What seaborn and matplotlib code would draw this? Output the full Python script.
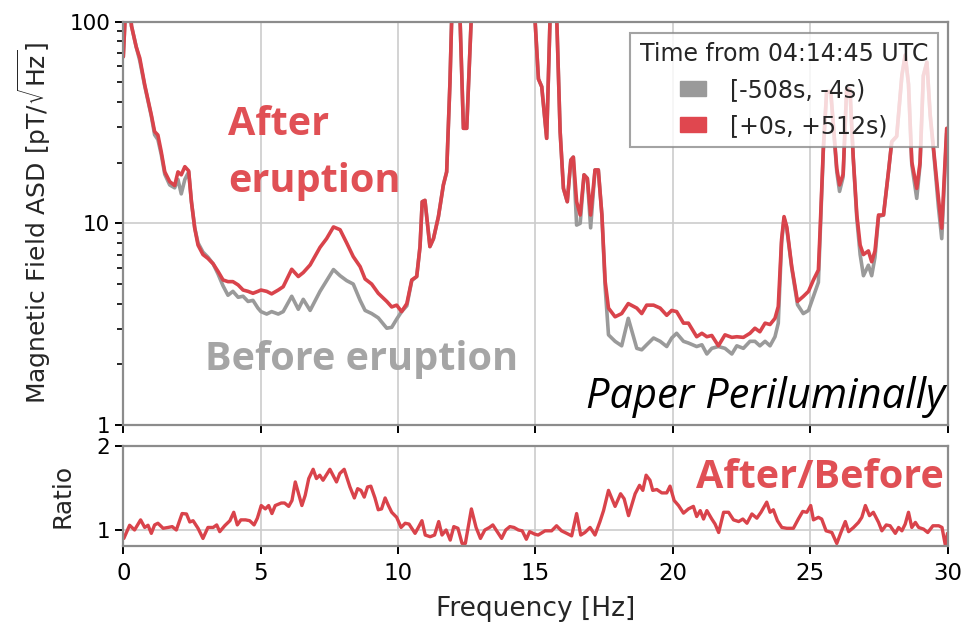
import numpy as np
import pandas as pd
import matplotlib
matplotlib.use("Agg")
import matplotlib.pyplot as plt
from matplotlib.patches import Patch
from matplotlib.ticker import FixedLocator, FixedFormatter, NullFormatter
import seaborn as sns

# ---------------- data ----------------
freq = [0.0, 0.1, 0.2, 0.3, 0.47, 0.6, 0.78, 1.02, 1.14, 1.26, 1.38, 1.51, 1.69, 1.87, 1.99,
        2.11, 2.24, 2.38, 2.48, 2.6, 2.72, 2.9, 3.08, 3.27, 3.45, 3.63, 3.81, 3.99, 4.18, 4.36,
        4.54, 4.72, 4.9, 5.01, 5.22, 5.4, 5.64, 5.82, 6.13, 6.37, 6.55, 6.8, 7.16, 7.4, 7.65,
        7.89, 8.13, 8.37, 8.62, 8.8, 9.04, 9.28, 9.59, 9.77, 9.95, 10.13, 10.32, 10.5, 10.68,
        10.8, 10.88, 10.98, 11.16, 11.29, 11.47, 11.65, 11.77, 11.89, 11.95, 12.1, 12.26,
        12.38, 12.5, 12.66, 13.0, 14.0, 14.7, 14.99, 15.11, 15.23, 15.41, 15.53, 15.65, 15.78,
        15.9, 16.02, 16.16, 16.29, 16.38, 16.5, 16.63, 16.77, 16.89, 17.01, 17.17, 17.29,
        17.42, 17.54, 17.66, 17.9, 18.14, 18.38, 18.69, 18.87, 19.05, 19.3, 19.54, 19.78,
        19.96, 20.14, 20.39, 20.57, 20.87, 21.06, 21.24, 21.42, 21.66, 21.9, 22.15, 22.33,
        22.57, 22.81, 22.99, 23.17, 23.36, 23.54, 23.72, 23.84, 23.96, 24.05, 24.15, 24.33,
        24.54, 24.75, 24.94, 25.12, 25.3, 25.36, 25.48, 25.6, 25.75, 25.97, 26.07, 26.2,
        26.33, 26.45, 26.57, 26.7, 26.82, 26.94, 27.12, 27.24, 27.36, 27.49, 27.67, 27.85,
        27.97, 28.15, 28.34, 28.46, 28.58, 28.7, 28.88, 29.0, 29.12, 29.25, 29.37, 29.49,
        29.67, 29.79, 29.97]

asd_after = [67, 130, 130, 95, 75, 66, 48.6, 34.5, 28.5, 27.4, 22.7, 18.0, 16.1, 15.4, 18.0,
             17.4, 19.1, 18.2, 12.8, 9.46, 7.8, 7.0, 6.7, 6.3, 5.77, 5.24, 5.14, 5.14, 4.95, 4.67,
             4.6, 4.5, 4.6, 4.67, 4.6, 4.47, 4.67, 4.85, 5.92, 5.45, 5.7, 6.22, 7.6, 8.4, 9.6,
             9.3, 8.0, 6.84, 6.1, 5.3, 5.0, 4.5, 4.1, 3.85, 3.93, 3.65, 4.0, 5.24, 5.45,
             7.67, 12.8, 13.0, 7.67, 8.4, 10.8, 15.5, 18, 50, 100, 200, 100,
             29.6, 29.6, 100, 300, 400, 300, 100, 52, 47.6, 26.4, 100, 200, 100,
             28.5, 14.9, 12.8, 20.6, 21.3, 12.8, 11.0, 17.4, 16.7, 11.0, 18.4, 18.4,
             11.0, 5.14, 3.8, 3.44, 3.57, 4.0, 3.8, 3.57, 3.93, 3.93, 3.8, 3.5,
             3.7, 3.65, 3.2, 3.2, 2.74, 2.85, 2.74, 2.78, 2.47, 2.8, 2.72, 2.74,
             2.72, 2.85, 3.02, 2.9, 3.2, 3.15, 3.38, 3.87, 8.3, 10.8, 9.6, 6.1,
             4.1, 4.34, 4.6, 5.24, 5.87, 9.1, 23.6, 45, 45, 18.7, 15.5, 17.5,
             46.8, 46, 21, 11, 7.8, 7.0, 7.3, 6.45, 7.3, 11, 11, 18,
             25.4, 27, 54.4, 68.4, 49, 20.2, 14.9, 20, 54, 63, 34.5, 23.6,
             13.3, 9.46, 29.6]

asd_before = [67, 130, 130, 95, 75, 64, 48, 34, 27.5, 26, 22, 17.5, 15.5, 15.0, 16.5,
              14.0, 16.5, 18.0, 12.8, 9.5, 8.0, 7.2, 6.8, 6.3, 5.6, 4.9, 4.4, 4.6, 4.3, 4.35,
              4.1, 4.15, 3.8, 3.65, 3.55, 3.65, 3.55, 3.65, 4.35, 3.75, 4.2, 3.7, 4.6, 5.2, 5.9,
              5.5, 5.2, 5.0, 4.15, 3.7, 3.57, 3.4, 3.02, 3.05, 3.35, 3.65, 3.9, 5.2, 5.45,
              7.67, 12.8, 13.0, 7.67, 8.4, 10.8, 15.5, 18, 50, 100, 200, 100,
              29.6, 29.6, 100, 300, 400, 300, 100, 52, 47.6, 26.4, 100, 200, 100,
              28.5, 14.9, 12.8, 20.6, 21.3, 9.8, 10.0, 17.4, 16.7, 9.5, 18.4, 18.4,
              11.0, 4.8, 2.8, 2.6, 2.47, 3.38, 2.4, 2.36, 2.5, 2.7, 2.6, 2.45,
              2.7, 2.85, 2.6, 2.55, 2.45, 2.5, 2.25, 2.4, 2.45, 2.4, 2.25, 2.47,
              2.4, 2.6, 2.6, 2.47, 2.6, 2.47, 2.74, 3.2, 8.0, 10.6, 9.4, 6.0,
              3.95, 3.57, 3.7, 4.34, 5.1, 8.5, 23, 45, 45, 18, 14.4, 17,
              46.8, 46, 21, 10.5, 7.0, 5.5, 6.2, 5.5, 6.8, 10.8, 11, 18,
              25.4, 27, 54, 68, 49, 19.5, 13.3, 19.5, 54, 63, 34, 23,
              12.0, 8.4, 28]

ratio_freq = [0.02, 0.23, 0.41, 0.63, 0.78, 0.9, 1.02, 1.14, 1.26, 1.45, 1.63, 1.78, 1.93,
              2.14, 2.3, 2.42, 2.54, 2.72, 2.9, 3.08, 3.27, 3.4, 3.51, 3.69, 3.88, 4.02, 4.15,
              4.28, 4.45, 4.6, 4.76, 4.88, 5.02, 5.17, 5.29, 5.41, 5.53, 5.75, 5.87, 6.02,
              6.14, 6.26, 6.38, 6.5, 6.62, 6.75, 6.91, 7.03, 7.15, 7.27, 7.52, 7.76, 7.88,
              8.04, 8.25, 8.41, 8.53, 8.65, 8.77, 8.89, 9.01, 9.16, 9.28, 9.4, 9.53, 9.65,
              9.77, 9.95, 10.11, 10.26, 10.4, 10.62, 10.74, 10.87, 10.99, 11.17, 11.33,
              11.48, 11.6, 11.75, 11.9, 12.03, 12.18, 12.33, 12.45, 12.67, 12.84, 13.0,
              13.16, 13.33, 13.45, 13.61, 13.77, 13.92, 14.07, 14.22, 14.38, 14.52, 14.67,
              14.79, 14.98, 15.1, 15.35, 15.59, 15.77, 15.95, 16.14, 16.32, 16.5, 16.65,
              16.8, 16.99, 17.17, 17.35, 17.48, 17.66, 17.9, 18.1, 18.23, 18.39, 18.63,
              18.79, 18.91, 19.03, 19.17, 19.27, 19.42, 19.6, 19.78, 19.9, 20.05, 20.21,
              20.39, 20.57, 20.75, 20.87, 21.0, 21.12, 21.24, 21.42, 21.54, 21.67, 21.85,
              22.03, 22.21, 22.4, 22.55, 22.7, 22.88, 23.06, 23.21, 23.42, 23.54, 23.66,
              23.81, 23.97, 24.15, 24.39, 24.57, 24.73, 24.88, 25.02, 25.12, 25.3, 25.42,
              25.58, 25.79, 25.97, 26.12, 26.28, 26.4, 26.58, 26.76, 26.88, 27.01, 27.16,
              27.3, 27.49, 27.61, 27.77, 27.91, 28.1, 28.22, 28.34, 28.46, 28.58, 28.7,
              28.83, 28.95, 29.13, 29.28, 29.47, 29.68, 29.8, 29.92, 30.0]

ratio = [0.90, 1.056, 1.0, 1.12, 1.03, 1.056, 0.96, 1.06, 1.08, 1.02, 1.03, 1.04, 1.0,
         1.195, 1.19, 1.095, 1.11, 1.02, 0.90, 1.03, 1.03, 1.06, 0.98, 1.05, 1.11, 1.21, 1.06,
         1.12, 1.12, 1.11, 1.06, 1.14, 1.29, 1.25, 1.29, 1.195, 1.29, 1.32, 1.32, 1.28,
         1.35, 1.57, 1.43, 1.29, 1.41, 1.61, 1.72, 1.61, 1.65, 1.59, 1.72, 1.57, 1.67,
         1.72, 1.51, 1.38, 1.49, 1.47, 1.39, 1.51, 1.52, 1.38, 1.24, 1.25, 1.38, 1.29,
         1.21, 1.15, 1.03, 1.08, 1.07, 0.96, 1.03, 1.11, 0.94, 0.92, 0.94,
         1.10, 0.94, 1.0, 0.88, 1.04, 1.02, 0.84, 0.84, 1.25, 1.03, 0.90,
         1.0, 1.03, 1.06, 0.98, 0.90, 1.0, 1.04, 1.03, 1.0, 0.99, 0.89,
         0.98, 0.95, 0.94, 0.99, 0.99, 1.05, 0.99, 0.96, 0.93, 1.195, 0.94,
         0.97, 1.03, 0.94, 1.10, 1.23, 1.47, 1.28, 1.43, 1.37, 1.17, 1.43,
         1.53, 1.47, 1.65, 1.59, 1.47, 1.48, 1.44, 1.44, 1.52, 1.35, 1.29,
         1.20, 1.25, 1.28, 1.16, 1.23, 1.13, 1.23, 1.13, 1.07, 0.97, 1.21,
         1.21, 1.12, 1.10, 1.13, 1.08, 1.19, 1.14, 1.21, 1.33, 1.21, 1.24,
         1.11, 1.03, 1.02, 1.02, 1.13, 1.22, 1.21, 1.29, 1.12, 1.15, 1.13,
         0.99, 0.97, 0.84, 0.97, 1.10, 0.98, 1.03, 1.09, 1.15, 1.29, 1.17,
         1.21, 1.09, 0.99, 1.06, 1.05, 0.96, 1.03, 0.99, 1.07, 1.21, 1.03,
         1.09, 1.03, 1.01, 0.97, 1.05, 1.05, 1.03, 0.82, 0.96]

legend_title = "Time from 04:14:45 UTC"
series_labels = ["[-508s, -4s)", "[+0s, +512s)"]
x_ticks = [0, 5, 10, 15, 20, 25, 30]
asd_ticks = [1, 10, 100]
asd_tick_labels = ["1", "10", "100"]
ratio_ticks = [1, 2]
ratio_tick_labels = ["1", "2"]

# ---------------- style ----------------
GRAY = "#9a9a9a"
RED = "#d9434b"
sns.set_theme(style="whitegrid", rc={
    "xtick.bottom": True, "ytick.left": True,
    "axes.edgecolor": "0.55", "axes.linewidth": 1.6,
    "grid.color": "0.8", "grid.linewidth": 1.2,
    "xtick.color": "black", "ytick.color": "black",
    "xtick.major.size": 6, "ytick.major.size": 6,
    "ytick.minor.size": 4, "xtick.major.width": 1.4, "ytick.major.width": 1.4,
    "ytick.minor.width": 1.2, "xtick.major.pad": 5.5,
})
plt.rcParams["font.family"] = ["DejaVu Sans"]

fig = plt.figure(figsize=(9.64, 6.23), dpi=100)
ax1 = fig.add_axes([0.1279, 0.3178, 0.8550, 0.6474])
ax2 = fig.add_axes([0.1279, 0.1236, 0.8550, 0.1610])

df = pd.DataFrame({"f": freq, "before": asd_before, "after": asd_after})
sns.lineplot(data=df, x="f", y="before", ax=ax1, color=GRAY, lw=2.6, estimator=None)
sns.lineplot(data=df, x="f", y="after", ax=ax1, color=RED, lw=2.6, estimator=None)

ax1.set_yscale("log")
ax1.set_xlim(0, 30)
ax1.set_ylim(1, 100)
ax1.set_xticks(x_ticks)
ax1.set_xticklabels([])
ax1.set_xlabel("")
ax1.yaxis.set_major_locator(FixedLocator(asd_ticks))
ax1.yaxis.set_major_formatter(FixedFormatter(asd_tick_labels))
ax1.yaxis.set_minor_formatter(NullFormatter())
ax1.set_ylabel(r"Magnetic Field ASD [pT/$\sqrt{\rm Hz}$]", fontsize=18, labelpad=12)
ax1.tick_params(axis="x", which="major", labelsize=16.5)
ax1.tick_params(axis="y", which="major", labelsize=15.5)
ax1.tick_params(axis="y", which="minor", left=True, length=4)
ax1.grid(True, which="major")
ax1.grid(False, which="minor")

handles = [Patch(facecolor=GRAY, edgecolor=GRAY), Patch(facecolor="#e0474f", edgecolor="#e0474f")]
leg = ax1.legend(handles, series_labels, title=legend_title, loc="upper right",
                 bbox_to_anchor=(0.988, 0.972), borderaxespad=0, fontsize=17,
                 title_fontsize=17, fancybox=False, framealpha=0.8, edgecolor="0.55",
                 handlelength=1.1, handleheight=0.6, handletextpad=1.0, labelspacing=0.5)
leg.get_frame().set_linewidth(1.5)

rdf = pd.DataFrame({"f": ratio_freq, "r": ratio})
sns.lineplot(data=rdf, x="f", y="r", ax=ax2, color=RED, lw=2.4, estimator=None)
ax2.set_xlim(0, 30)
ax2.set_ylim(0.81, 2.0)
ax2.set_xticks(x_ticks)
ax2.set_yticks(ratio_ticks)
ax2.set_yticklabels(ratio_tick_labels)
ax2.tick_params(axis="x", which="major", labelsize=16.5)
ax2.tick_params(axis="y", which="major", labelsize=15.5)
ax2.set_xlabel("Frequency [Hz]", fontsize=19, labelpad=8)
ax2.set_ylabel("Ratio", fontsize=18, labelpad=16)

# annotations
bold = dict(family=["Open Sans", "DejaVu Sans"], weight="bold", fontsize=28.5)
fig.text(228 / 964, 1 - 135 / 623, "After", color="#e05055", **bold)
fig.text(228 / 964, 1 - 192 / 623, "eruption", color="#e05055", **bold)
fig.text(205 / 964, 1 - 370 / 623, "Before eruption", color="#a5a5a5", **bold)
fig.text(944 / 964, 1 - 488 / 623, "After/Before", color="#e05055", ha="right", **bold)
fig.text(945 / 964, 1 - 408 / 623, "Paper Periluminally", color="black", ha="right",
         family=["Open Sans", "DejaVu Sans"], style="italic", fontsize=30)

fig.savefig("out.png", dpi=100)
